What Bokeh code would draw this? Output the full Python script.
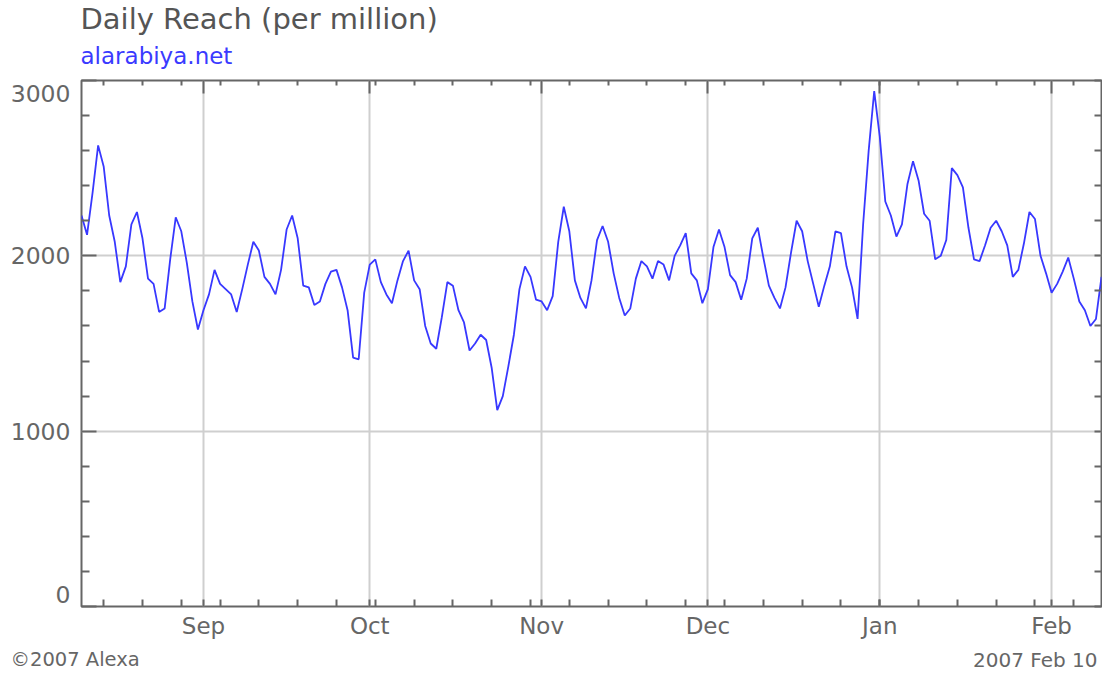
import pandas as pd
from bokeh.plotting import figure
from bokeh.layouts import column
from bokeh.models import (Range1d, FixedTicker, DatetimeTickFormatter, DatetimeAxis,
                          LinearAxis, Label)
from bokeh.embed import file_html
from bokeh.resources import INLINE

# ---------------- data ----------------
start_date = "2006-08-10"
end_date = "2007-02-10"
reach = [
    2230, 2120, 2360, 2630, 2510, 2230, 2080, 1850, 1940, 2180,
    2250, 2100, 1870, 1840, 1680, 1700, 1980, 2220, 2140, 1960,
    1740, 1580, 1690, 1780, 1920, 1840, 1810, 1780, 1680, 1810,
    1950, 2080, 2030, 1880, 1840, 1780, 1920, 2150, 2230, 2100,
    1830, 1820, 1720, 1740, 1840, 1910, 1920, 1820, 1690, 1420,
    1410, 1790, 1950, 1980, 1850, 1780, 1730, 1860, 1970, 2030,
    1860, 1810, 1600, 1500, 1470, 1650, 1850, 1830, 1690, 1620,
    1460, 1500, 1550, 1520, 1360, 1120, 1200, 1370, 1550, 1810,
    1940, 1880, 1750, 1740, 1690, 1770, 2080, 2280, 2140, 1860,
    1760, 1700, 1860, 2090, 2170, 2080, 1900, 1760, 1660, 1700,
    1870, 1970, 1940, 1870, 1970, 1950, 1860, 2000, 2060, 2130,
    1900, 1860, 1730, 1810, 2050, 2150, 2050, 1890, 1850, 1750,
    1870, 2100, 2160, 1990, 1830, 1760, 1700, 1820, 2020, 2200,
    2140, 1970, 1840, 1710, 1830, 1940, 2140, 2130, 1940, 1820,
    1640, 2180, 2600, 2940, 2680, 2310, 2230, 2110, 2180, 2410,
    2540, 2430, 2240, 2200, 1980, 2000, 2090, 2500, 2460, 2390,
    2160, 1980, 1970, 2060, 2160, 2200, 2140, 2060, 1880, 1920,
    2070, 2250, 2210, 2000, 1900, 1790, 1840, 1910, 1990, 1870,
    1740, 1690, 1600, 1640, 1880,
]
y_ticks = [0, 1000, 2000, 3000]
y_tick_labels = ["0", "1000", "2000", "3000"]
month_starts = ["2006-09-01", "2006-10-01", "2006-11-01", "2006-12-01",
                "2007-01-01", "2007-02-01"]
first_monday = "2006-08-14"
title_text = "Daily Reach (per million)"
site_text = "alarabiya.net"
copyright_text = "\u00a92007 Alexa"
date_text = "2007 Feb 10"

# ---------------- helpers ----------------
def ms(d):
    return pd.Timestamp(d).value / 1e6

dates = pd.date_range(start_date, periods=len(reach), freq="D")
month_ms = [ms(d) for d in month_starts]
monday_ms = [ms(d) for d in pd.date_range(first_monday, end_date, freq="7D")]
y_minor = [v for v in range(0, 3001, 200) if v % 1000 != 0]
x0, x1 = ms(start_date), ms(end_date)

FONT = "DejaVu Sans"
AX = "#666666"
GREY = "#666666"
W = 1102
HEAD_H = 72
FOOT_H = 28
MAIN_H = 673 - HEAD_H - FOOT_H


def no_frame_align(f):
    if "frame_align" in f.properties():
        f.frame_align = False


# ---------------- main chart ----------------
p = figure(width=W, height=MAIN_H, x_axis_type="datetime",
           x_range=Range1d(x0, x1), y_range=Range1d(0, 3000),
           output_backend="svg", toolbar_location=None,
           min_border_left=81, min_border_right=1,
           min_border_top=8, min_border_bottom=39)
p.background_fill_color = "white"
p.border_fill_color = "white"
p.outline_line_color = AX
p.outline_line_width = 2
no_frame_align(p)


def style_axis(ax, tick_in, minor_in, labels=False):
    ax.axis_line_color = None
    ax.major_tick_in = tick_in
    ax.major_tick_out = 0
    ax.minor_tick_in = minor_in
    ax.minor_tick_out = 0
    ax.major_tick_line_color = AX
    ax.minor_tick_line_color = AX
    ax.major_tick_line_width = 2
    ax.minor_tick_line_width = 2
    if not labels:
        ax.major_label_text_color = None
        ax.major_label_text_font_size = "0px"
        ax.major_label_standoff = 0


fmt = DatetimeTickFormatter(microseconds="%b", milliseconds="%b", seconds="%b",
                            minsec="%b", minutes="%b", hourmin="%b", hours="%b",
                            days="%b", months="%b", years="%b")

# bottom axis with month names
xb = p.xaxis[0]
xb.ticker = FixedTicker(ticks=month_ms, minor_ticks=monday_ms)
xb.formatter = fmt
style_axis(xb, 7, 7, labels=True)
xb.major_label_text_font = FONT
xb.major_label_text_font_size = "23px"
xb.major_label_text_color = GREY
xb.major_label_standoff = 6

# left axis: tick marks only
yl = p.yaxis[0]
yl.ticker = FixedTicker(ticks=y_ticks, minor_ticks=y_minor)
style_axis(yl, 15, 8)

# left axis: value labels (the end labels sit inside the frame span)
label_pos = [70, 1000, 2000, 2925]
ylab = LinearAxis(ticker=FixedTicker(ticks=label_pos),
                  major_label_overrides={pos: lab for pos, lab in zip(label_pos, y_tick_labels)})
ylab.axis_line_color = None
ylab.major_tick_in = 0
ylab.major_tick_out = 0
ylab.minor_tick_in = 0
ylab.minor_tick_out = 0
ylab.major_tick_line_color = None
ylab.minor_tick_line_color = None
ylab.major_label_standoff = 11
ylab.major_label_text_font = FONT
ylab.major_label_text_font_size = "23.5px"
ylab.major_label_text_color = GREY
p.add_layout(ylab, "left")

# top axis
xt = DatetimeAxis(ticker=FixedTicker(ticks=month_ms, minor_ticks=monday_ms))
style_axis(xt, 13, 5)
p.add_layout(xt, "above")

# right axis
yr = LinearAxis(ticker=FixedTicker(ticks=y_ticks, minor_ticks=y_minor))
style_axis(yr, 7, 7)
p.add_layout(yr, "right")

p.xgrid.grid_line_color = "#cfcfcf"
p.xgrid.grid_line_width = 2
p.ygrid.grid_line_color = "#cfcfcf"
p.ygrid.grid_line_width = 2

p.line(dates, reach, line_color="#3838ff", line_width=1.8)


# ---------------- header / footer text strips ----------------
def text_fig(h):
    f = figure(width=W, height=h, x_range=Range1d(0, W), y_range=Range1d(h, 0),
               output_backend="svg", toolbar_location=None,
               x_axis_location=None, y_axis_location=None, min_border=0)
    f.outline_line_color = None
    f.xgrid.visible = False
    f.ygrid.visible = False
    f.background_fill_color = "white"
    f.border_fill_color = "white"
    no_frame_align(f)
    return f


def txt(f, x, y, text, size, color, align="left"):
    f.add_layout(Label(x=x, y=y, text=text, text_align=align,
                       text_baseline="middle", text_font=FONT,
                       text_font_size=f"{size}px", text_color=color))


head = text_fig(HEAD_H)
txt(head, 80, 18.5, title_text, 29, "#555555")
txt(head, 80, 55.5, site_text, 23, "#3a3aff")

foot = text_fig(FOOT_H)
txt(foot, 10, 13.5, copyright_text, 19.5, GREY)
txt(foot, 1097, 14.5, date_text, 20, GREY, align="right")

layout = column(head, p, foot, spacing=0)
open("out.html", "w").write(file_html(layout, INLINE))
